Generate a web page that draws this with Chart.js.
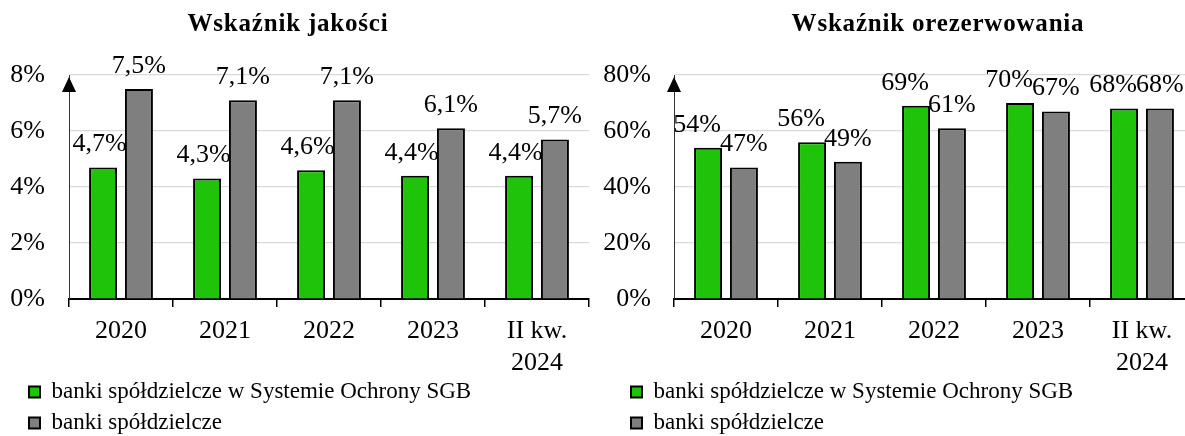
<!DOCTYPE html>
<html>
<head>
<meta charset="utf-8">
<script src="https://cdn.jsdelivr.net/npm/chart.js@4"></script>
<style>
  html, body { margin: 0; padding: 0; overflow: hidden; background: #fff; }
  .panel { position: absolute; top: 0; height: 436px; }
</style>
</head>
<body>
<div class="panel" style="left:0;width:590px"><canvas id="quality"></canvas></div>
<div class="panel" style="left:590px;width:605px"><canvas id="reserve"></canvas></div>
<script>
// categories and values
const categories = ["2020", "2021", "2022", "2023", ["II kw.", "2024"]];
const seriesNames = ["banki spółdzielcze w Systemie Ochrony SGB", "banki spółdzielcze"];
const qualitySgb = [4.7, 4.3, 4.6, 4.4, 4.4];
const qualityAll = [7.5, 7.1, 7.1, 6.1, 5.7];
const reserveSgb = [54, 56, 69, 70, 68];
const reserveAll = [47, 49, 61, 67, 68];
const qualityTicks = [0, 2, 4, 6, 8];
const reserveTicks = [0, 20, 40, 60, 80];

Chart.defaults.font.family = "'Liberation Serif', 'Times New Roman', serif";
Chart.defaults.font.size = 26;
Chart.defaults.color = "#000";

const green = "#1ec30a";
const grey = "#7f7f7f";

// title, arrow on the y axis and value labels above the bars
const extras = {
  id: "extras",
  afterLayout(chart, args, opts) {
    // legend sits a bit to the right of the canvas edge
    chart.legend.left += opts.legendShift;
    chart.legend.right += opts.legendShift;
  },
  afterDatasetsDraw(chart, args, opts) {
    const ctx = chart.ctx;
    const area = chart.chartArea;
    ctx.save();
    ctx.fillStyle = "#000";
    ctx.beginPath();
    ctx.moveTo(area.left, area.top + 2);
    ctx.lineTo(area.left - 7, area.top + 17);
    ctx.lineTo(area.left + 7, area.top + 17);
    ctx.closePath();
    ctx.fill();

    ctx.font = "26px 'Liberation Serif', serif";
    ctx.textAlign = "center";
    ctx.textBaseline = "middle";
    chart.data.datasets.forEach((ds, di) => {
      chart.getDatasetMeta(di).data.forEach((bar, i) => {
        const txt = ds.data[i].toFixed(opts.decimals).replace(".", ",") + "%";
        const dx = di === 0 ? opts.shift : 0;
        ctx.fillText(txt, bar.x + dx, bar.y - 23);
      });
    });

    ctx.font = "bold 25px 'Liberation Serif', serif";
    ctx.letterSpacing = "0.8px";
    ctx.fillText(opts.title, opts.titleX, 25);
    ctx.restore();
  }
};

function makeChart(id, sgb, all, ticks, cfg) {
  const step = ticks[1] - ticks[0];
  return new Chart(document.getElementById(id), {
    type: "bar",
    data: {
      labels: categories,
      datasets: [
        { label: seriesNames[0], data: sgb, backgroundColor: green, borderColor: "#000", borderWidth: 2,
          categoryPercentage: 0.69, barPercentage: 0.78 },
        { label: seriesNames[1], data: all, backgroundColor: grey, borderColor: "#000", borderWidth: 2,
          categoryPercentage: 0.69, barPercentage: 0.78 }
      ]
    },
    options: {
      responsive: true,
      maintainAspectRatio: false,
      animation: false,
      layout: { padding: { left: 0, right: 1, top: 75, bottom: -8.5 } },
      scales: {
        x: {
          grid: { drawOnChartArea: false, drawTicks: true, tickLength: 8, color: "#000", lineWidth: 1.5 },
          border: { color: "#000", width: 2 },
          ticks: { padding: 8, maxRotation: 0, autoSkip: false, font: { size: 26, lineHeight: 1.23 } },
          afterFit(scale) { scale.height = 73.5; }
        },
        y: {
          min: ticks[0],
          max: ticks[ticks.length - 1],
          grid: { color: "#d9d9d9", lineWidth: 1.2, drawTicks: false },
          border: { color: "#333", width: 1 },
          ticks: { stepSize: step, padding: cfg.tickPad, callback: (v) => v + "%" },
          afterFit(scale) { scale.width = cfg.axisWidth; }
        }
      },
      plugins: {
        legend: {
          position: "bottom",
          align: "start",
          labels: { boxWidth: 11, boxHeight: 11, padding: 8, font: { size: 23 } }
        },
        tooltip: { enabled: false },
        extras: { title: cfg.title, titleX: cfg.titleX, decimals: cfg.decimals, shift: cfg.shift,
                  legendShift: cfg.legendShift }
      }
    },
    plugins: [extras]
  });
}

makeChart("quality", qualitySgb, qualityAll, qualityTicks,
  { title: "Wskaźnik jakości", titleX: 288, decimals: 1, shift: -3.5, axisWidth: 69, tickPad: 24, legendShift: 21 });
makeChart("reserve", reserveSgb, reserveAll, reserveTicks,
  { title: "Wskaźnik orezerwowania", titleX: 348, decimals: 0, shift: -11, axisWidth: 84, tickPad: 23, legendShift: 33 });
</script>
</body>
</html>
